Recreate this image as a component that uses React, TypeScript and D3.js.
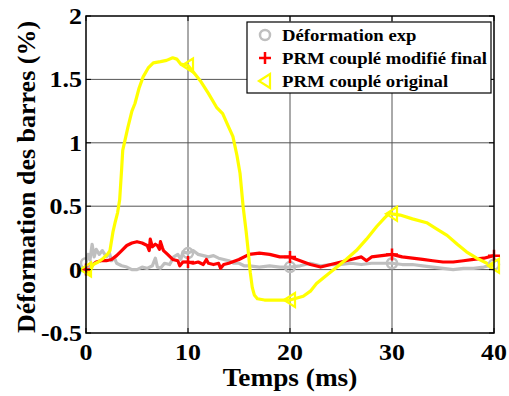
import React from "react";
import * as d3 from "d3";

const expT = [0,0.2,0.4,0.6,0.8,1.0,1.3,1.6,2.0,2.3,2.5,2.8,3.0,3.5,4.0,4.5,5.0,5.5,6.0,6.5,6.8,7.0,7.3,7.7,8.2,8.6,9.0,9.3,9.5,10,10.5,11,11.5,12,12.5,13,13.5,14,14.5,15,15.5,16,17,18,19,20,21,22,23,24,25,26,27,28,29,30,31,32,33,34,35,36,37,38,39,40];
const expV = [0.05,0.12,0.08,0.2,0.1,0.16,0.12,0.15,0.1,0.13,0.07,0.09,0.05,0.03,0.02,0.0,0.0,0.02,0.01,0.03,0.09,0.02,0.01,0.05,0.04,0.1,0.12,0.08,0.14,0.13,0.15,0.12,0.11,0.1,0.11,0.09,0.08,0.07,0.05,0.05,0.03,0.03,0.02,0.03,0.02,0.02,0.03,0.05,0.03,0.04,0.04,0.05,0.04,0.05,0.05,0.05,0.04,0.04,0.03,0.02,0.01,0.0,0.01,0.01,0.02,0.04];

const modT = [0,0.5,1,1.5,2,2.5,3,3.5,4,4.5,5,5.5,6,6.2,6.3,6.5,6.8,7,7.2,7.3,7.5,7.6,8,8.5,9,9.2,9.5,10,10.5,11,11.5,11.8,12,12.5,13,13.2,13.5,14,15,16,17,18,19,20,21,22,23,24,25,26,27,27.5,28,29,30,31,32,33,34,35,36,37,38,39,40];
const modV = [0.0,0.03,0.06,0.07,0.07,0.08,0.11,0.15,0.19,0.21,0.22,0.21,0.19,0.15,0.24,0.18,0.2,0.19,0.16,0.22,0.17,0.15,0.12,0.08,0.07,0.03,0.06,0.06,0.05,0.06,0.04,0.08,0.05,0.04,0.05,0.01,0.04,0.05,0.08,0.12,0.13,0.12,0.1,0.1,0.07,0.04,0.02,0.04,0.06,0.08,0.1,0.07,0.1,0.11,0.12,0.1,0.09,0.08,0.07,0.06,0.06,0.07,0.08,0.09,0.11];

const origT = [0,0.3,0.7,1.2,1.7,2.1,2.35,2.65,2.85,3.1,3.3,3.5,3.6,4.1,4.5,4.8,5.2,5.6,6.1,6.6,7.3,7.9,8.5,8.9,9.3,10,10.6,11.2,12,12.8,13.4,13.9,14.4,14.8,15.1,15.4,15.7,15.9,16.1,16.3,16.5,16.8,17.5,18.5,20,21.3,22,22.6,23.5,24.6,25.5,26.5,27.5,28.5,29.3,29.8,30,30.8,32,33.4,34.4,35.4,36.4,37.3,38.3,39.3,40];
const origV = [0,-0.03,0.04,0.06,0.09,0.12,0.15,0.3,0.37,0.45,0.55,0.8,0.94,1.12,1.25,1.31,1.43,1.52,1.59,1.63,1.64,1.65,1.67,1.66,1.62,1.61,1.55,1.49,1.39,1.28,1.23,1.14,1.05,0.9,0.76,0.5,0.3,0.15,-0.02,-0.14,-0.2,-0.23,-0.24,-0.24,-0.24,-0.21,-0.17,-0.11,-0.05,0.02,0.08,0.15,0.24,0.34,0.41,0.45,0.44,0.43,0.4,0.37,0.32,0.27,0.2,0.14,0.09,0.05,0.03];

const xTicks = [0, 10, 20, 30, 40];
const yTicks = [-0.5, 0, 0.5, 1, 1.5, 2];
const yTickLabels = ["-0.5", "0", "0.5", "1", "1.5", "2"];
const markerT = [0, 10, 20, 30, 40];
const legendLabels = ["Déformation exp", "PRM couplé modifié final", "PRM couplé original"];

const W = 509, H = 396;
const L = 86, R = 494, T = 16, B = 333;
const FONT = "Liberation Serif";

export default function App() {
  const x = d3.scaleLinear().domain([0, 40]).range([L, R]);
  const y = d3.scaleLinear().domain([-0.5, 2]).range([B, T]);
  const line = d3.line<[number, number]>().x(d => x(d[0])).y(d => y(d[1]));

  const series = [
    { t: expT, v: expV, color: "#bfbfbf", marker: "o" },
    { t: modT, v: modV, color: "#ff0000", marker: "+" },
    { t: origT, v: origV, color: "#ffff00", marker: "<" },
  ];

  const drawMarker = (kind: string, cx: number, cy: number, color: string, key: string) => {
    if (kind === "o") return <circle key={key} cx={cx} cy={cy} r={5} fill="none" stroke={color} strokeWidth={2.5} />;
    if (kind === "+") return <path key={key} d={`M${cx - 6},${cy}H${cx + 6}M${cx},${cy - 6}V${cy + 6}`} stroke={color} strokeWidth={2.5} fill="none" />;
    return <path key={key} d={`M${cx - 6},${cy}L${cx + 5},${cy - 7}L${cx + 5},${cy + 7}Z`} stroke={color} strokeWidth={2.2} fill="none" strokeLinejoin="miter" />;
  };

  const Txt = (p: { x: number; y: number; size: number; sx: number; anchor?: string; rot?: boolean; children: React.ReactNode }) => (
    <text
      transform={`translate(${p.x},${p.y})${p.rot ? " rotate(-90)" : ""} scale(${p.sx},1)`}
      textAnchor={p.anchor || "start"}
      fontSize={p.size}
      fontFamily={FONT}
      fontWeight="bold"
      fill="#000"
    >{p.children}</text>
  );

  return (
    <svg width={W} height={H} style={{ position: "absolute", left: 0, top: 0, background: "#fff" }}>
      <rect x={0} y={0} width={W} height={H} fill="#fff" />
      {xTicks.slice(1, -1).map(t => (
        <line key={"gx" + t} x1={x(t)} x2={x(t)} y1={T} y2={B} stroke="#555" strokeWidth={1} />
      ))}
      {yTicks.slice(1, -1).map(t => (
        <line key={"gy" + t} x1={L} x2={R} y1={y(t)} y2={y(t)} stroke="#555" strokeWidth={1} />
      ))}
      <defs>
        <clipPath id="plotclip"><rect x={L} y={T} width={R - L} height={B - T} /></clipPath>
      </defs>
      <g clipPath="url(#plotclip)">
        {series.map((s, i) => (
          <path key={"s" + i} d={line(s.t.map((t, j) => [t, s.v[j]] as [number, number])) || ""} fill="none" stroke={s.color} strokeWidth={3.2} strokeLinejoin="round" />
        ))}
      </g>
      {series.map((s, i) =>
        s.t.map((t, j) => markerT.includes(t) ? drawMarker(s.marker, x(t), y(s.v[j]), s.color, `m${i}-${j}`) : null)
      )}
      <rect x={L} y={T} width={R - L} height={B - T} fill="none" stroke="#000" strokeWidth={1.5} />
      {xTicks.map(t => (
        <g key={"tx" + t}>
          <line x1={x(t)} x2={x(t)} y1={B} y2={B - 5} stroke="#000" strokeWidth={1} />
          <line x1={x(t)} x2={x(t)} y1={T} y2={T + 5} stroke="#000" strokeWidth={1} />
          <Txt x={x(t)} y={360} size={24} sx={1.08} anchor="middle">{t}</Txt>
        </g>
      ))}
      {yTicks.map((t, i) => (
        <g key={"ty" + t}>
          <line x1={L} x2={L + 5} y1={y(t)} y2={y(t)} stroke="#000" strokeWidth={1} />
          <line x1={R} x2={R - 5} y1={y(t)} y2={y(t)} stroke="#000" strokeWidth={1} />
          <Txt x={82} y={y(t) + 8} size={24} sx={1.08} anchor="end">{yTickLabels[i]}</Txt>
        </g>
      ))}
      <Txt x={290} y={386} size={26} sx={1.05} anchor="middle">Temps (ms)</Txt>
      <Txt x={35} y={177} size={26} sx={1.0} anchor="middle" rot>Déformation des barres (%)</Txt>
      <rect x={247} y={22} width={244} height={71} fill="#fff" stroke="#000" strokeWidth={1.2} />
      {series.map((s, i) => {
        const cy = 35 + i * 23;
        return (
          <g key={"lg" + i}>
            {drawMarker(s.marker, 265, cy, s.color, "lm" + i)}
            <Txt x={282} y={cy + 6} size={17} sx={1.1}>{legendLabels[i]}</Txt>
          </g>
        );
      })}
    </svg>
  );
}
